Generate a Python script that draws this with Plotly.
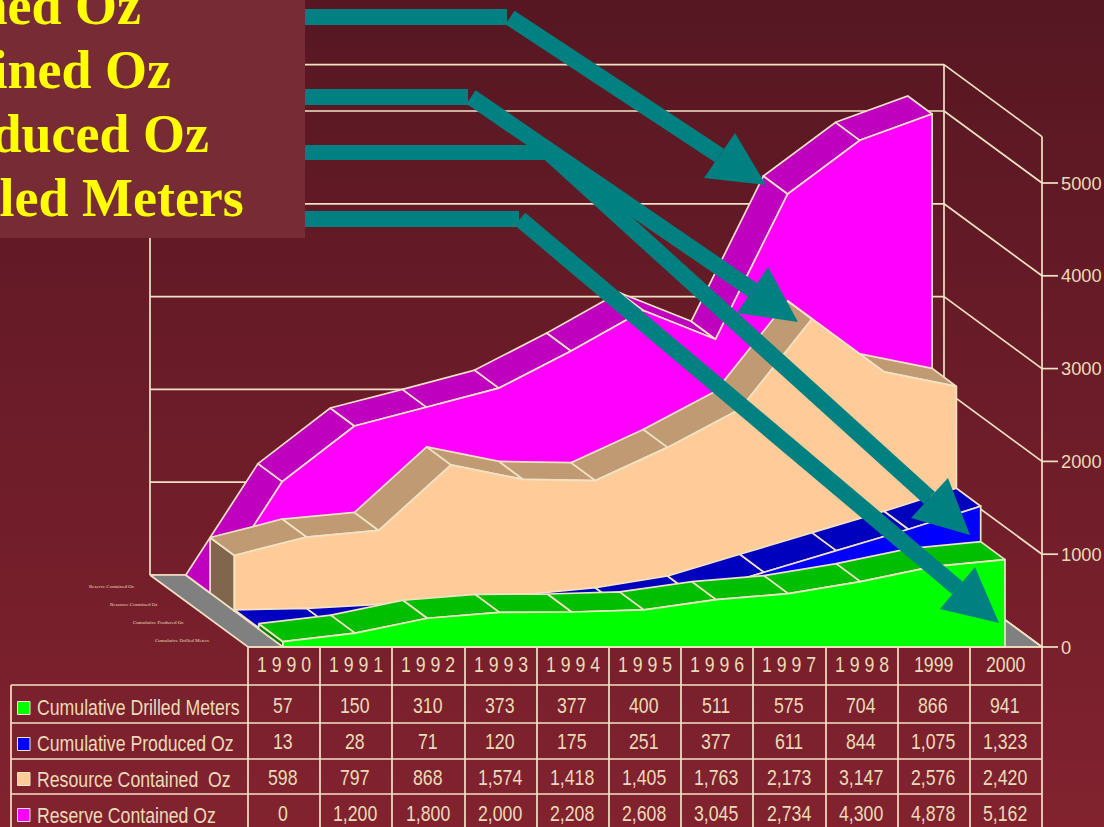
import plotly.graph_objects as go

# ---------- data ----------
YEARS = ["1 9 9 0", "1 9 9 1", "1 9 9 2", "1 9 9 3", "1 9 9 4", "1 9 9 5", "1 9 9 6", "1 9 9 7", "1 9 9 8", "1999", "2000"]
DRILLED = [57, 150, 310, 373, 377, 400, 511, 575, 704, 866, 941]
PRODUCED = [13, 28, 71, 120, 175, 251, 377, 611, 844, 1075, 1323]
RESOURCE = [598, 797, 868, 1574, 1418, 1405, 1763, 2173, 3147, 2576, 2420]
RESERVE = [0, 1200, 1800, 2000, 2208, 2608, 3045, 2734, 4300, 4878, 5162]
NAMES = ["Cumulative Drilled Meters", "Cumulative Produced Oz", "Resource Contained  Oz", "Reserve Contained Oz"]
TICKS = [0, 1000, 2000, 3000, 4000, 5000]
AXIS_TOP = 5500
TITLES = ["Reserve Contained Oz", "Resource Contained Oz", "Cumulative Produced Oz", "Cumulative Drilled Meters"]
TINY = ["Reserve Contained Oz", "Resource Contained Oz", "Cumulative Produced Oz", "Cumulative Drilled Meters"]

# ---------- style / projection ----------
CREAM = "#F2E2C4"
TEXT = "#EADBB8"
TEAL = "#008080"
FRONT = ["#00FF00", "#0000FF", "#FFCC99", "#FF00FF"]
TOP = ["#00BF00", "#0000BF", "#BF9A73", "#BF00BF"]
SIDE = ["#007F00", "#00007F", "#7F664D", "#BF00BF"]
SCALE = 0.0928
X0, STEP, BASE = 283.0, 72.2, 647.0
DX, DY = -24.3, -18.0


def px(i, depth):
    return X0 + STEP * i + DX * depth


def py(v, depth):
    return BASE + DY * depth - v * SCALE


fig = go.Figure()


def poly(xs, ys, fill, lw=1.7, line=CREAM):
    fig.add_trace(go.Scatter(x=list(xs) + [xs[0]], y=list(ys) + [ys[0]], mode="lines", fill="toself",
                             fillcolor=fill, line=dict(color=line, width=lw), hoverinfo="skip", showlegend=False))


def lines(segs, lw=1.7):
    xs, ys = [], []
    for (a, b, c, d) in segs:
        xs += [a, c, None]
        ys += [b, d, None]
    fig.add_trace(go.Scatter(x=xs, y=ys, mode="lines", line=dict(color=CREAM, width=lw),
                             hoverinfo="skip", showlegend=False))


# background gradient
fig.add_trace(go.Scatter(x=[0, 1104, 1104, 0, 0], y=[0, 0, 827, 827, 0], mode="lines", fill="toself",
                         line=dict(width=0),
                         fillgradient=dict(type="vertical",
                                           colorscale=[[0, "#82222F"], [1, "#561722"]]),
                         hoverinfo="skip", showlegend=False))

# walls
WALL_D = 4
segs = []
for v in TICKS + [AXIS_TOP]:
    y_front = BASE - v * SCALE
    y_back = y_front + DY * WALL_D
    segs.append((150, y_back, 944, y_back))
    segs.append((944, y_back, 1042, y_front))
segs.append((150, BASE + DY * WALL_D, 150, BASE + DY * WALL_D - AXIS_TOP * SCALE))
segs.append((944, BASE + DY * WALL_D, 944, BASE + DY * WALL_D - AXIS_TOP * SCALE))
segs.append((1042, BASE, 1042, BASE - AXIS_TOP * SCALE))
for v in TICKS:
    segs.append((1042, BASE - v * SCALE, 1058, BASE - v * SCALE))
lines(segs)

# floor
poly([150, 248, 1042, 944], [575, 647, 647, 575], "#808080")

# series, back to front
for k, vals in reversed(list(enumerate([DRILLED, PRODUCED, RESOURCE, RESERVE]))):
    n = len(vals)
    poly([px(0, k), px(0, k + 1), px(0, k + 1), px(0, k)],
         [py(0, k), py(0, k + 1), py(vals[0], k + 1), py(vals[0], k)], SIDE[k])
    for i in range(n - 1):
        poly([px(i, k), px(i + 1, k), px(i + 1, k + 1), px(i, k + 1)],
             [py(vals[i], k), py(vals[i + 1], k), py(vals[i + 1], k + 1), py(vals[i], k + 1)], TOP[k])
    xs = [px(i, k) for i in range(n)]
    ys = [py(v, k) for v in vals]
    poly(xs + [xs[-1], xs[0]], ys + [py(0, k), py(0, k)], FRONT[k])

# table grid
COL_EDGES = [248, 320, 392, 465, 537, 609, 681, 753, 826, 898, 970, 1042]
ROW_EDGES = [685, 723, 759, 794, 835]
segs = [(248, 647, 1042, 647)]
for y in ROW_EDGES[:-1]:
    segs.append((11, y, 1042, y))
for x in COL_EDGES:
    segs.append((x, 647, x, 835))
segs.append((11, 685, 11, 835))
lines(segs)

annotations = []
SANS = "Liberation Sans"
TABLE_SIZE = 17.7


def label(x, y, text, size=TABLE_SIZE, anchor="center", color=TEXT, family=SANS, bold=False):
    annotations.append(dict(x=x, y=y, xref="x", yref="y", text=("<b>%s</b>" % text) if bold else text,
                            showarrow=False, xanchor=anchor, yanchor="middle",
                            font=dict(size=size, color=color, family=family), borderpad=0, borderwidth=0))


# table text
for c, yr in enumerate(YEARS):
    label((COL_EDGES[c] + COL_EDGES[c + 1]) / 2 - 0.5, 665, yr)
TABLE = [DRILLED, PRODUCED, RESOURCE, RESERVE]
ROW_Y = [705, 741, 777, 813]
for r, row in enumerate(TABLE):
    label(37, ROW_Y[r] + 3, NAMES[r], anchor="left")
    for c, v in enumerate(row):
        label((COL_EDGES[c] + COL_EDGES[c + 1]) / 2 - 1, ROW_Y[r] + 0.5, f"{v:,}")

# axis labels
for v in TICKS:
    label(1060.5, BASE - v * SCALE, str(v), anchor="left", size=18.3)

# tiny labels from the chart's own legend
TINY_X = [135, 158, 184, 209]
TINY_Y = [586, 604, 622, 640]
for t, x, y in zip(TINY, TINY_X, TINY_Y):
    label(x, y, t, size=5, anchor="right", family="Liberation Serif")

# title box text
TITLE_RIGHT = [141, 171, 209, 244]
TITLE_Y = [6, 70, 134, 198]
for t, x, y in zip(TITLES, TITLE_RIGHT, TITLE_Y):
    label(x, y, t, size=54, anchor="right", color="#FFFF00", family="Liberation Serif", bold=True)

# callout arrows: elbow rectangle, shaft, head
ARROWS = [
    dict(rect=(305, 9, 507, 25), start=(510, 17.5), wings=((735, 133), (704, 178)), tip=(766, 185)),
    dict(rect=(305, 89, 468, 105), start=(471, 97), wings=((768, 267), (737, 313)), tip=(798, 322)),
    dict(rect=(305, 145, 550, 160), start=(548, 152), wings=((948, 478), (911, 518)), tip=(970, 535)),
    dict(rect=(305, 211, 519, 227), start=(520, 219), wings=((975, 567), (940, 609)), tip=(999, 623)),
]
HALF = 8.2
shapes = []


def path(pts):
    return "M " + " L ".join(f"{a:.1f},{b:.1f}" for a, b in pts) + " Z"


for a in ARROWS:
    x1, y1, x2, y2 = a["rect"]
    shapes.append(dict(type="rect", xref="x", yref="y", x0=x1, y0=y1, x1=x2, y1=y2,
                       fillcolor=TEAL, line=dict(width=0), layer="above"))
    (wx1, wy1), (wx2, wy2) = a["wings"]
    ex, ey = (wx1 + wx2) / 2, (wy1 + wy2) / 2
    sx, sy = a["start"]
    d = ((ex - sx) ** 2 + (ey - sy) ** 2) ** 0.5
    nx, ny = -(ey - sy) / d * HALF, (ex - sx) / d * HALF
    shapes.append(dict(type="path", xref="x", yref="y",
                       path=path([(sx + nx, sy + ny), (ex + nx, ey + ny), (ex - nx, ey - ny), (sx - nx, sy - ny)]),
                       fillcolor=TEAL, line=dict(width=0), layer="above"))
    shapes.append(dict(type="path", xref="x", yref="y",
                       path=path([(wx1, wy1), a["tip"], (wx2, wy2)]),
                       fillcolor=TEAL, line=dict(width=0), layer="above"))

# title box
shapes.append(dict(type="rect", xref="x", yref="y", x0=-5, y0=-5, x1=305, y1=238,
                   fillcolor="#762B35", line=dict(width=0), layer="above"))

# legend keys
KEY_Y = [708, 744, 779, 815]
for y, c in zip(KEY_Y, FRONT):
    shapes.append(dict(type="rect", xref="x", yref="y", x0=17.5, y0=y - 6.5, x1=30, y1=y + 6.5,
                       fillcolor=c, line=dict(color=CREAM, width=1), layer="above"))

fig.update_layout(
    width=1104, height=827, margin=dict(l=0, r=0, t=0, b=0), autosize=False,
    paper_bgcolor="#82222F", plot_bgcolor="rgba(0,0,0,0)", showlegend=False,
    xaxis=dict(range=[0, 1104], visible=False, fixedrange=True),
    yaxis=dict(range=[827, 0], visible=False, fixedrange=True),
    shapes=shapes, annotations=annotations,
)

# the table's lettering is tall and condensed in the reference: stretch it vertically about its own centre
STRETCH_JS = """
document.body.style.margin='0';document.body.style.overflow='hidden';
(function(){
  function stretch(){
    document.querySelectorAll('.annotation-text').forEach(function(t){
      if(Math.abs(parseFloat(t.style.fontSize)-%s)>0.05 || t.getAttribute('data-st')) return;
      var b=t.getBBox(), c=b.y+b.height/2;
      t.setAttribute('transform','translate(0 '+c+') scale(1 1.23) translate(0 '+(-c)+')');
      t.setAttribute('data-st','1');
    });
  }
  stretch(); requestAnimationFrame(stretch); setTimeout(stretch,100);
})();
""" % TABLE_SIZE
fig.write_html("out.html", config=dict(displayModeBar=False), post_script=STRETCH_JS)
